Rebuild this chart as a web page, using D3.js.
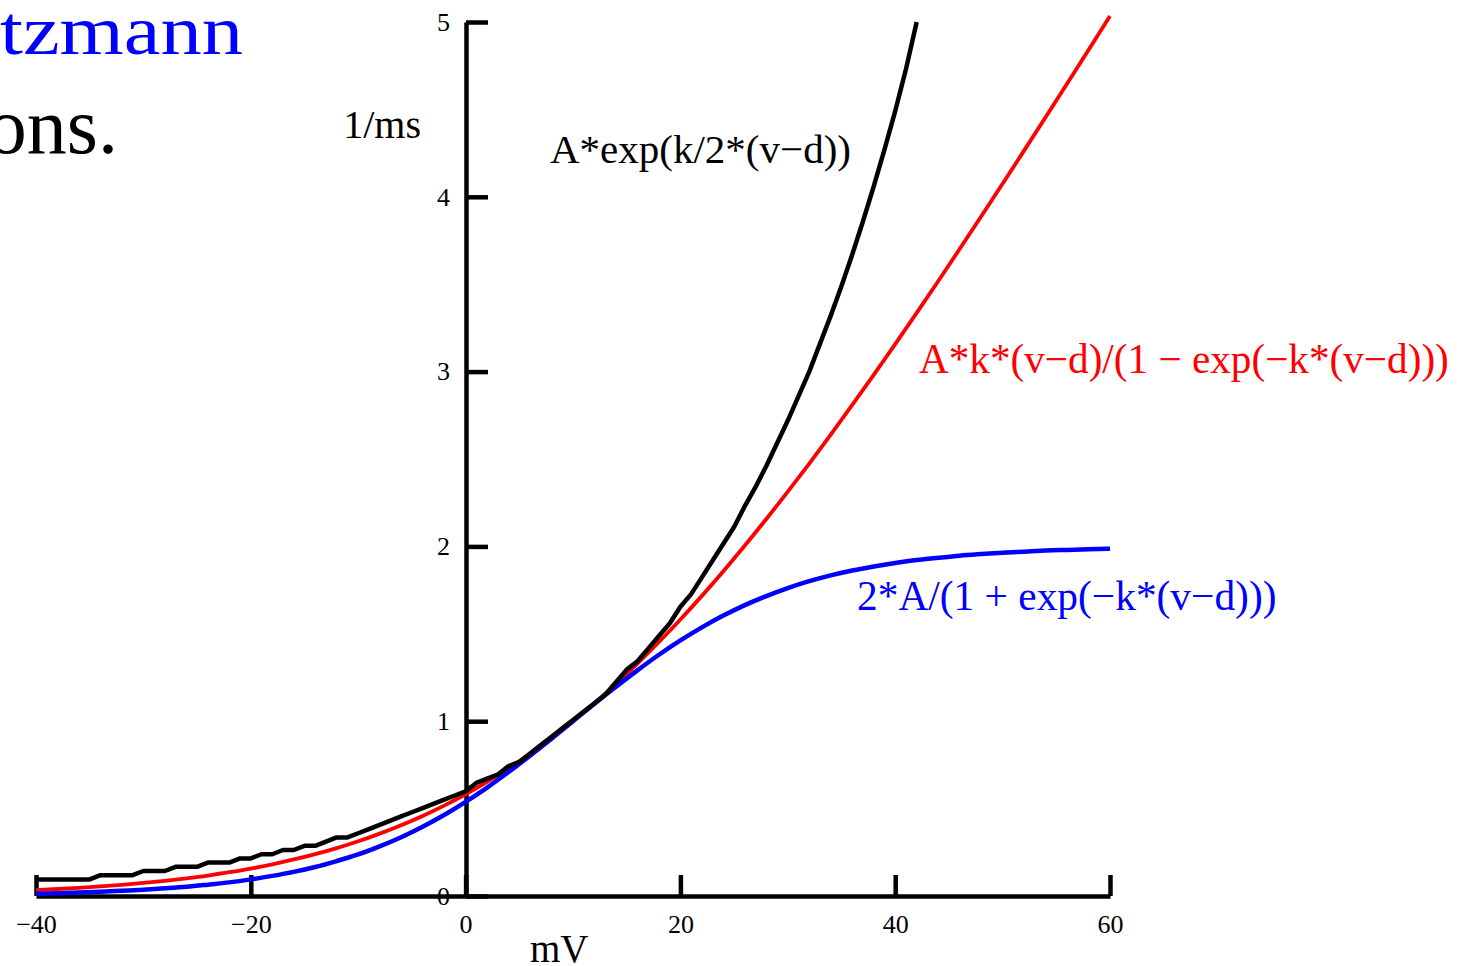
<!DOCTYPE html>
<html>
<head>
<meta charset="utf-8">
<script src="https://cdn.jsdelivr.net/npm/d3@7/dist/d3.min.js"></script>
<style>
  html, body { margin: 0; padding: 0; background: #ffffff; }
  svg { display: block; }
  text { font-family: "Liberation Serif", "Times New Roman", serif; }
</style>
</head>
<body>
<svg id="chart" width="1468" height="966"></svg>
<script>
// ---- data ----
const xTicks = [-40, -20, 0, 20, 40, 60];
const yTicks = [0, 1, 2, 3, 4, 5];

// black curve: A*exp(k/2*(v-d)), sampled every 1 mV (slightly stepped, as drawn)
const mvBlack = [-40,-39,-38,-37,-36,-35,-34,-33,-32,-31,-30,-29,-28,-27,-26,-25,-24,-23,-22,-21,
  -20,-19,-18,-17,-16,-15,-14,-13,-12,-11,-10,-9,-8,-7,-6,-5,-4,-3,-2,-1,
  0,1,2,3,4,5,6,7,8,9,10,11,12,13,14,15,16,17,18,19,20,21,22,23,24,25,26,27,28,29,30,
  31,32,33,34,35,36,37,38,39,40,41,42];
const rateBlack = [0.095,0.095,0.095,0.095,0.095,0.095,0.119,0.119,0.119,0.119,0.143,0.143,0.143,0.167,0.167,0.167,0.191,0.191,0.191,0.215,
  0.215,0.239,0.239,0.263,0.263,0.287,0.287,0.311,0.335,0.335,0.359,0.383,0.407,0.431,0.455,0.479,0.503,0.527,0.551,0.575,
  0.599,0.647,0.671,0.695,0.743,0.767,0.815,0.863,0.911,0.959,1.007,1.055,1.103,1.151,1.223,1.295,1.343,1.415,1.487,1.559,1.655,
  1.727,1.823,1.919,2.015,2.111,2.231,2.34,2.46,2.59,2.72,
  2.86,3.00,3.16,3.32,3.49,3.67,3.86,4.06,4.27,4.49,4.73,5.00];

// red and blue curves, sampled every 2 mV
const mvSmooth = [-40,-38,-36,-34,-32,-30,-28,-26,-24,-22,-20,-18,-16,-14,-12,-10,-8,-6,-4,-2,
  0,2,4,6,8,10,12,14,16,18,20,22,24,26,28,30,32,34,36,38,40,42,44,46,48,50,52,54,56,58,60];
const rateRed = [0.034,0.040,0.047,0.055,0.064,0.075,0.087,0.101,0.117,0.136,0.157,0.181,0.209,0.240,0.274,0.313,0.357,0.405,0.458,0.517,
  0.582,0.653,0.730,0.813,0.903,1.000,1.103,1.213,1.330,1.453,1.582,1.717,1.858,2.005,2.157,2.313,2.474,2.640,2.809,2.981,
  3.157,3.336,3.517,3.701,3.887,4.075,4.264,4.455,4.647,4.840,5.034];
const rateBlue = [0.013,0.016,0.020,0.024,0.030,0.036,0.044,0.053,0.065,0.078,0.095,0.115,0.138,0.166,0.200,0.238,0.284,0.336,0.396,0.463,
  0.538,0.620,0.709,0.803,0.900,1.000,1.100,1.197,1.291,1.380,1.462,1.537,1.604,1.664,1.716,1.762,1.801,1.834,1.862,1.885,
  1.905,1.922,1.935,1.947,1.956,1.964,1.970,1.976,1.980,1.984,1.987];

const labelBlack = "A*exp(k/2*(v\u2212d))";
const labelRed = "A*k*(v\u2212d)/(1 \u2212 exp(\u2212k*(v\u2212d)))";
const labelBlue = "2*A/(1 + exp(\u2212k*(v\u2212d)))";
const xAxisTitle = "mV";
const yAxisTitle = "1/ms";
const titleLine1 = "tzmann";
const titleLine2 = "ons.";

// ---- drawing ----
const svg = d3.select("#chart");
const x = d3.scaleLinear().domain([-40, 60]).range([36, 1110]);
const y = d3.scaleLinear().domain([0, 5]).range([896, 22]);

// title fragments (cut off at the left edge)
svg.append("text").attr("x", 0).attr("y", 54)
  .attr("textLength", 243).attr("lengthAdjust", "spacingAndGlyphs")
  .style("font-size", "70px").attr("fill", "#0000ff").text(titleLine1);
svg.append("text").attr("x", 118).attr("y", 153).attr("text-anchor", "end")
  .style("font-size", "80px").attr("fill", "#000").text(titleLine2);

// axes
const fmt = d => d < 0 ? "\u2212" + Math.abs(d) : String(d);
const gx = svg.append("g").attr("transform", "translate(0,896)")
  .call(d3.axisBottom(x).tickValues(xTicks).tickSize(-21).tickSizeOuter(0).tickPadding(18.5).tickFormat(fmt));
const gy = svg.append("g").attr("transform", "translate(466,0)")
  .call(d3.axisLeft(y).tickValues(yTicks).tickSize(-22).tickSizeOuter(0).tickPadding(16).tickFormat(fmt));

[gx, gy].forEach(g => {
  g.attr("font-family", null);
  g.select(".domain").attr("stroke", "#000").attr("stroke-width", 4.5);
  g.selectAll(".tick line").attr("stroke", "#000").attr("stroke-width", 4.5);
  g.selectAll(".tick text").attr("fill", "#000")
    .style("font-family", "'Liberation Serif', 'Times New Roman', serif").style("font-size", "26px");
});

svg.append("text").attr("x", 421).attr("y", 138).attr("text-anchor", "end")
  .style("font-size", "40px").attr("fill", "#000").text(yAxisTitle);
svg.append("text").attr("x", 530).attr("y", 962)
  .style("font-size", "39px").attr("fill", "#000").text(xAxisTitle);

// curves
const line = d3.line().x(d => x(d[0])).y(d => y(d[1]));
const redPts = mvSmooth.map((v, i) => [v, rateRed[i]]);
const bluePts = mvSmooth.map((v, i) => [v, rateBlue[i]]);
const blackPts = mvBlack.map((v, i) => [v, rateBlack[i]]);

svg.append("path").datum(redPts).attr("d", line.curve(d3.curveMonotoneX))
  .attr("fill", "none").attr("stroke", "#ff0000").attr("stroke-width", 3.8);
svg.append("path").datum(bluePts).attr("d", line.curve(d3.curveMonotoneX))
  .attr("fill", "none").attr("stroke", "#0000ff").attr("stroke-width", 4.5);
svg.append("path").datum(blackPts).attr("d", line.curve(d3.curveLinear))
  .attr("fill", "none").attr("stroke", "#000").attr("stroke-width", 4.5).attr("stroke-linejoin", "round");

// curve labels
svg.append("text").attr("x", 550).attr("y", 163).style("font-size", "41px").attr("fill", "#000").text(labelBlack);
svg.append("text").attr("x", 919).attr("y", 373).style("font-size", "41.2px").attr("fill", "#ff0000").text(labelRed);
svg.append("text").attr("x", 857).attr("y", 610).style("font-size", "41.4px").attr("fill", "#0000ff").text(labelBlue);
</script>
</body>
</html>
